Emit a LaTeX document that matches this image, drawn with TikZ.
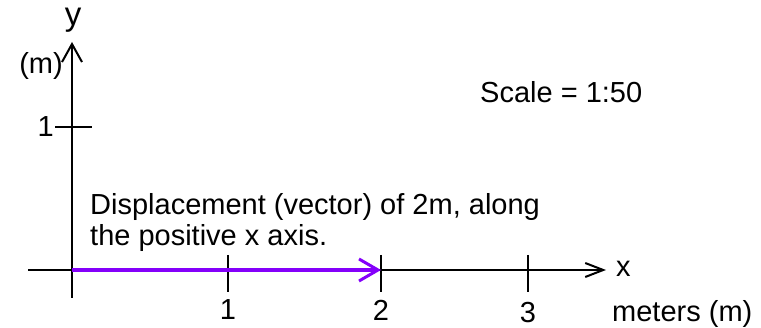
\documentclass[tikz,border=0pt]{standalone}
\usepackage{fontspec}
\setmainfont{Liberation Sans}
\usepackage{xcolor}
\usetikzlibrary{arrows.meta}

\definecolor{dispviolet}{RGB}{132,0,250}

\begin{document}
\begin{tikzpicture}[
  x=1pt, y=-1pt,
  every node/.style={inner sep=0pt, font=\fontsize{29}{31}\selectfont},
  axis/.style={black, line width=2pt},
  tickmark/.style={black, line width=1.8pt},
  vec/.style={dispviolet, line width=3.5pt}
]
\useasboundingbox (0,0) rectangle (761,328);

% Axes
\coordinate (origin) at (72,270);
\coordinate (xlo) at (28,270);
\coordinate (xhi) at (606,270);
\coordinate (ylo) at (72,298);
\coordinate (yhi) at (72,42);
\draw[axis, -{Straight Barb[length=18pt, width=14pt, line width=2pt]}] (xlo) -- (xhi);
\draw[axis, -{Straight Barb[length=18pt, width=20pt, line width=2pt]}] (ylo) -- (yhi);

\node[anchor=base west] (xname) at (616,277) {x};
\node[anchor=base west] (xunit) at (612,322) {meters (m)};
\node[anchor=base, font=\fontsize{33}{35}\selectfont] (yname) at (73,26) {y};
\node[anchor=base east] (yunit) at (63,74) {(m)};

% Tick marks
\foreach \n/\xx/\yy in {1/228/320, 2/381/321, 3/528/323} {
  \draw[tickmark] (\xx,255) -- (\xx,292);
  \node[anchor=base] (xlab\n) at (\xx,\yy) {\n};
}
\draw[tickmark] (55,127) -- (92,127);
\node[anchor=base east] (ylab1) at (54,137) {1};

% Displacement vector
\coordinate (vtip) at (381,270);
\draw[vec, -{Straight Barb[length=19pt, width=22pt, line width=3pt]}] (origin) -- (vtip);

\node[anchor=base west] (scale) at (480,103) {Scale = 1:50};
\node[anchor=north west, align=left] (note) at (90,193)
  {Displacement (vector) of 2m, along\\the positive x axis.};

\end{tikzpicture}
\end{document}
